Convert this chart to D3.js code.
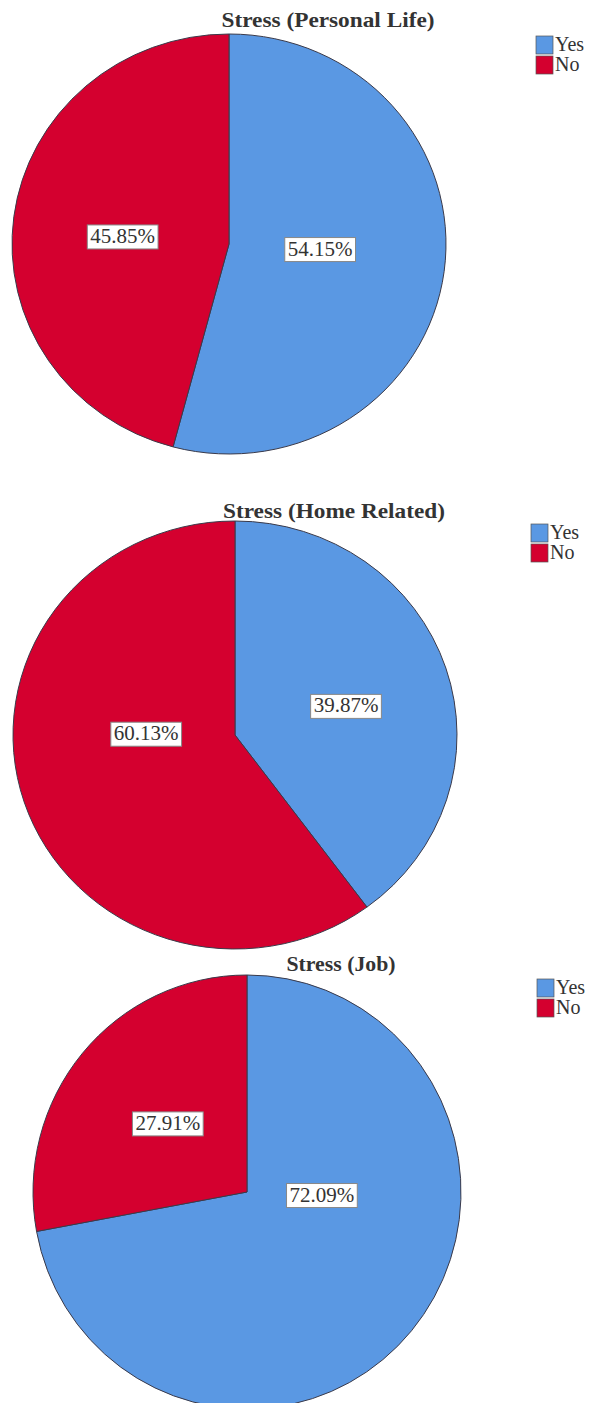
<!DOCTYPE html>
<html>
<head>
<meta charset="utf-8">
<script src="https://cdn.jsdelivr.net/npm/d3@7"></script>
<style>
  body { margin: 0; background: #fff; }
  svg { display: block; }
</style>
</head>
<body>
<div id="chart"></div>
<script>
// data
var categories = ["Yes", "No"];
var titles = ["Stress (Personal Life)", "Stress (Home Related)", "Stress (Job)"];
var yesValues = [54.15, 39.87, 72.09];
var noValues = [45.85, 60.13, 27.91];

var colors = d3.scaleOrdinal().domain(categories).range(["#5a98e3", "#d4002f"]);
var serif = "'Liberation Serif', 'Times New Roman', serif";

// layout of each panel (centre, radii, title, legend, label spots as fraction of radius)
var panels = [
    { cx: 229, cy: 244, rx: 217, ry: 210, titleX: 328, titleY: 27, titleW: 213, legX: 536, legY: 36,
      labels: [[0.42, 0.02], [-0.49, -0.04]] },
    { cx: 235, cy: 735, rx: 222, ry: 214, titleX: 334, titleY: 518, titleW: 222, legX: 531, legY: 524,
      labels: [[0.50, -0.14], [-0.40, -0.01]] },
    { cx: 247, cy: 1192, rx: 214, ry: 217, titleX: 341, titleY: 971, titleW: 109, legX: 537, legY: 979,
      labels: [[0.35, 0.01], [-0.37, -0.32]] }
];

var svg = d3.select("#chart")
    .append("svg")
    .attr("width", 599)
    .attr("height", 1403);

var pie = d3.pie().sort(null).value(function (d) { return d.value; });

panels.forEach(function (p, i) {
    var data = [
        { cat: categories[0], value: yesValues[i] },
        { cat: categories[1], value: noValues[i] }
    ];
    var g = svg.append("g");

    // title
    g.append("text")
        .attr("x", p.titleX)
        .attr("y", p.titleY)
        .attr("text-anchor", "middle")
        .attr("textLength", p.titleW)
        .attr("lengthAdjust", "spacingAndGlyphs")
        .style("font-family", serif)
        .style("font-weight", "bold")
        .style("font-size", "21px")
        .style("fill", "#333")
        .text(titles[i]);

    // slices (ellipse made by scaling the y axis)
    var arc = d3.arc().innerRadius(0).outerRadius(p.rx);
    var pieG = g.append("g")
        .attr("transform", "translate(" + p.cx + "," + p.cy + ") scale(1," + (p.ry / p.rx) + ")");
    pieG.selectAll("path")
        .data(pie(data))
        .enter().append("path")
        .attr("d", arc)
        .attr("fill", function (d) { return colors(d.data.cat); })
        .attr("stroke", "#3a3a4a")
        .attr("stroke-width", 1)
        .attr("vector-effect", "non-scaling-stroke");

    // value labels
    data.forEach(function (d, j) {
        var lx = p.cx + p.labels[j][0] * p.rx;
        var ly = p.cy + p.labels[j][1] * p.ry;
        var lab = g.append("g").attr("transform", "translate(" + lx + "," + ly + ")");
        var t = lab.append("text")
            .attr("text-anchor", "middle")
            .attr("dy", "0.35em")
            .style("font-family", serif)
            .style("font-size", "21px")
            .style("fill", "#333")
            .text(d.value.toFixed(2) + "%");
        var bb = t.node().getBBox();
        lab.insert("rect", "text")
            .attr("x", bb.x - 3)
            .attr("y", bb.y + 1)
            .attr("width", bb.width + 6)
            .attr("height", bb.height)
            .attr("fill", "#fff")
            .attr("stroke", "#888")
            .attr("stroke-width", 1);
    });

    // legend
    var leg = g.append("g").attr("transform", "translate(" + p.legX + "," + p.legY + ")");
    categories.forEach(function (c, j) {
        leg.append("rect")
            .attr("x", 0)
            .attr("y", j * 20)
            .attr("width", 17)
            .attr("height", 18)
            .attr("fill", colors(c))
            .attr("stroke", "#555")
            .attr("stroke-width", 0.7);
        leg.append("text")
            .attr("x", 19)
            .attr("y", j * 20 + 15)
            .style("font-family", serif)
            .style("font-size", "20px")
            .style("fill", "#333")
            .text(c);
    });
});
</script>
</body>
</html>
